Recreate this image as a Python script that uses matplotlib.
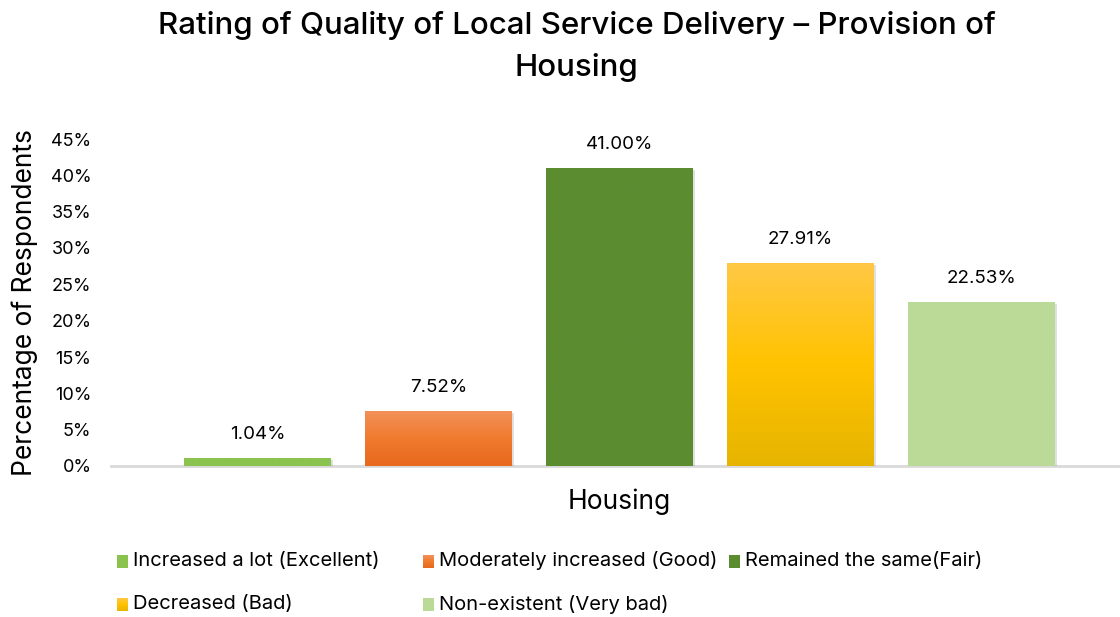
import numpy as np
import matplotlib.pyplot as plt
import matplotlib.transforms as mtransforms
from matplotlib.colors import LinearSegmentedColormap
from matplotlib.patches import Rectangle

plt.rcParams["font.family"] = ["Inter", "DejaVu Sans"]

# data
categories = [
    "Increased a lot (Excellent)",
    "Moderately increased (Good)",
    "Remained the same(Fair)",
    "Decreased (Bad)",
    "Non-existent (Very bad)",
]
values = [1.04, 7.52, 41.00, 27.91, 22.53]
# top -> bottom gradient stops for each bar
bar_colors = [
    ["#8BC34F", "#8BC34F"],
    ["#F3915A", "#F07A2E", "#E8681D"],
    ["#5B8C30", "#5B8C30"],
    ["#FFC845", "#FFC300", "#E6B400"],
    ["#BBDA98", "#BBDA98"],
]
yticks = np.arange(0, 46, 5)

W, H = 1120, 617
fig = plt.figure(figsize=(W / 100, H / 100), dpi=100)
ax = fig.add_axes([111 / W, (H - 466) / H, (1128 - 111) / W, (466 - 139) / H])

x = np.arange(len(values))
width = 0.81
bars = ax.bar(x, values, width, color="none", zorder=2)

shift = mtransforms.ScaledTranslation(2 / 100, -2 / 100, fig.dpi_scale_trans)
for b, cols in zip(bars, bar_colors):
    cmap = LinearSegmentedColormap.from_list("g", cols[::-1])
    grad = np.linspace(0, 1, 256).reshape(-1, 1)
    x0, y0 = b.get_x(), b.get_y()
    w, h = b.get_width(), b.get_height()
    # soft shadow
    shadow = Rectangle((x0, y0), w, h, facecolor="#000000", alpha=0.12,
                       edgecolor="none", zorder=1)
    shadow.set_transform(ax.transData + shift)
    ax.add_patch(shadow)
    im = ax.imshow(grad, extent=[x0, x0 + w, y0, y0 + h], origin="lower",
                   cmap=cmap, aspect="auto", zorder=2)
    im.set_clip_path(b)

for b, v in zip(bars, values):
    ax.annotate(f"{v:.2f}%", (b.get_x() + b.get_width() / 2, v),
                xytext=(0, 11), textcoords="offset points",
                ha="center", va="bottom", fontsize=13.5)

ax.set_xlim(-0.81, 4.81)
ax.set_ylim(0, 45)
ax.set_yticks(yticks)
ax.set_yticklabels([f"{t}%" for t in yticks], fontsize=13)
ax.set_xticks([])
ax.tick_params(axis="y", length=0, pad=14)
for s in ["top", "right", "left"]:
    ax.spines[s].set_visible(False)
ax.spines["bottom"].set_color("#D9D9D9")
ax.spines["bottom"].set_linewidth(2)
ax.spines["bottom"].set_zorder(0)

ax.set_ylabel("Percentage of Respondents", fontsize=19, labelpad=9)
ax.set_xlabel("Housing", fontsize=19, labelpad=16)

fig.text(0.515, 1 - 26 / H, "Rating of Quality of Local Service Delivery \u2013 Provision of",
         ha="center", va="center", fontsize=22.5, fontweight="medium")
fig.text(0.515, 1 - 68 / H, "Housing", ha="center", va="center", fontsize=22.5,
         fontweight="medium")

# legend laid out like the original (equal column widths)
for i, (lab, cols) in enumerate(zip(categories, bar_colors)):
    col, row = i % 3, i // 3
    lx = 117 + col * 306
    ly = 561 + row * 43
    cmap = LinearSegmentedColormap.from_list("g", cols[::-1])
    lax = fig.add_axes([lx / W, (H - ly - 7) / H, 11 / W, 13 / H])
    lax.imshow(np.linspace(0, 1, 64).reshape(-1, 1), origin="lower", cmap=cmap, aspect="auto")
    lax.axis("off")
    fig.text((lx + 16) / W, 1 - ly / H, lab, ha="left", va="center", fontsize=14.5)

fig.savefig("out.png", dpi=100)
